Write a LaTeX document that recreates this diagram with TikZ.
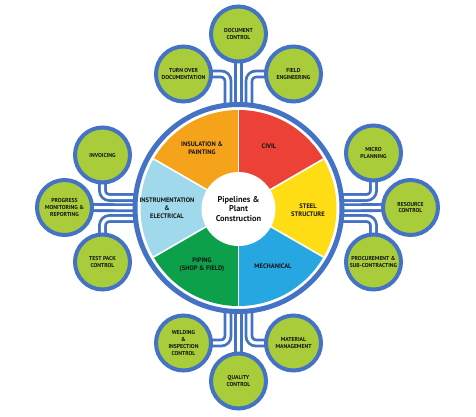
\documentclass[tikz,border=0pt]{standalone}
\usepackage{fontspec}
\setmainfont{PT Sans}
\usetikzlibrary{calc,backgrounds}
\definecolor{ringblue}{HTML}{4472C4}
\definecolor{limefill}{HTML}{A8CC3A}
\definecolor{civilred}{HTML}{EC4137}
\definecolor{steelyellow}{HTML}{FFDD15}
\definecolor{mechblue}{HTML}{27A7E1}
\definecolor{pipegreen}{HTML}{0DA04A}
\definecolor{instblue}{HTML}{A0D9EC}
\definecolor{insorange}{HTML}{F6A31C}
\definecolor{txt}{HTML}{141414}
\begin{document}
\begin{tikzpicture}[x=1pt,y=-1pt,
  sat/.style={circle, draw=ringblue, line width=4pt, fill=limefill, minimum size=55pt,
    inner sep=0pt, align=center, font=\fontsize{5.7}{6.8}\selectfont\bfseries, text=txt},
  pipe/.style={draw=ringblue, line width=2.8pt, double=white, double distance=3.2pt, rounded corners=7pt},
  seglabel/.style={align=center, font=\fontsize{6.5}{8}\selectfont\bfseries, text=txt},
  divider/.style={draw=white, line width=1.6pt}]
\useasboundingbox (0,0) rectangle (476,416);
\coordinate (C) at (238.5,208);
\coordinate (tL) at (228,208);
\coordinate (tR) at (249,208);
\coordinate (lU) at (238.5,197.5);
\coordinate (lD) at (238.5,218.5);
% satellites
\node[sat] (doc) at (238.5,34) {DOCUMENT\\CONTROL};
\node[sat] (turn) at (183.5,74) {TURN OVER\\DOCUMENTATION};
\node[sat] (field) at (293.5,74) {FIELD\\ENGINEERING};
\node[sat] (inv) at (102.5,155) {INVOICING};
\node[sat] (prog) at (64.5,207.5) {PROGRESS\\MONITORING \&\\REPORTING};
\node[sat] (test) at (102.5,262) {TEST PACK\\CONTROL};
\node[sat] (micro) at (373.5,153) {MICRO\\PLANNING};
\node[sat] (res) at (410.5,207.5) {RESOURCE\\CONTROL};
\node[sat] (proc) at (373.5,262) {PROCUREMENT \&\\SUB-CONTRACTING};
\node[sat] (weld) at (183.5,343) {WELDING\\\&\\INSPECTION\\CONTROL};
\node[sat] (qual) at (238.5,381) {QUALITY\\CONTROL};
\node[sat] (mat) at (293.5,343) {MATERIAL\\MANAGEMENT};
% pipes
\begin{scope}[on background layer]
\draw[pipe] (tL) |- (turn.center);
\draw[pipe] (C) -- (doc.center);
\draw[pipe] (tR) |- (field.center);
\draw[pipe] (tL) |- (weld.center);
\draw[pipe] (C) -- (qual.center);
\draw[pipe] (tR) |- (mat.center);
\draw[pipe] (lU) -| (inv.center);
\draw[pipe] (C) -- (prog.center);
\draw[pipe] (lD) -| (test.center);
\draw[pipe] (lU) -| (micro.center);
\draw[pipe] (C) -- (res.center);
\draw[pipe] (lD) -| (proc.center);
\end{scope}
% wheel
\node[circle, draw=ringblue, line width=5pt, fill=white, minimum size=207pt] (ring) at (C) {};
\fill[civilred] (C) -- ($(C)+(-90:98)$) arc[start angle=-90, end angle=-30, radius=98] -- cycle;
\fill[steelyellow] (C) -- ($(C)+(-30:98)$) arc[start angle=-30, end angle=30, radius=98] -- cycle;
\fill[mechblue] (C) -- ($(C)+(30:98)$) arc[start angle=30, end angle=90, radius=98] -- cycle;
\fill[pipegreen] (C) -- ($(C)+(90:98)$) arc[start angle=90, end angle=150, radius=98] -- cycle;
\fill[instblue] (C) -- ($(C)+(150:98)$) arc[start angle=150, end angle=210, radius=98] -- cycle;
\fill[insorange] (C) -- ($(C)+(210:98)$) arc[start angle=210, end angle=270, radius=98] -- cycle;
\foreach \a in {-90,-30,30,90,150,210} \draw[divider] (C) -- ($(C)+(\a:98)$);
\node[circle, fill=white, minimum size=74pt, inner sep=0pt, align=center,
  font=\fontsize{8.4}{9.8}\selectfont\bfseries, text=txt] (hub) at (238.5,209) {Pipelines \&\\Plant\\Construction};
\node[seglabel] (civil) at (269,146) {CIVIL};
\node[seglabel] (steel) at (308,210) {STEEL\\STRUCTURE};
\node[seglabel] (mech) at (273,266) {MECHANICAL};
\node[seglabel] (piping) at (202,265) {PIPING\\(SHOP \& FIELD)};
\node[seglabel] (inst) at (167,208) {INSTRUMENTATION\\\&\\ELECTRICAL};
\node[seglabel] (insul) at (202,148) {INSULATION \&\\PAINTING};
\end{tikzpicture}
\end{document}
